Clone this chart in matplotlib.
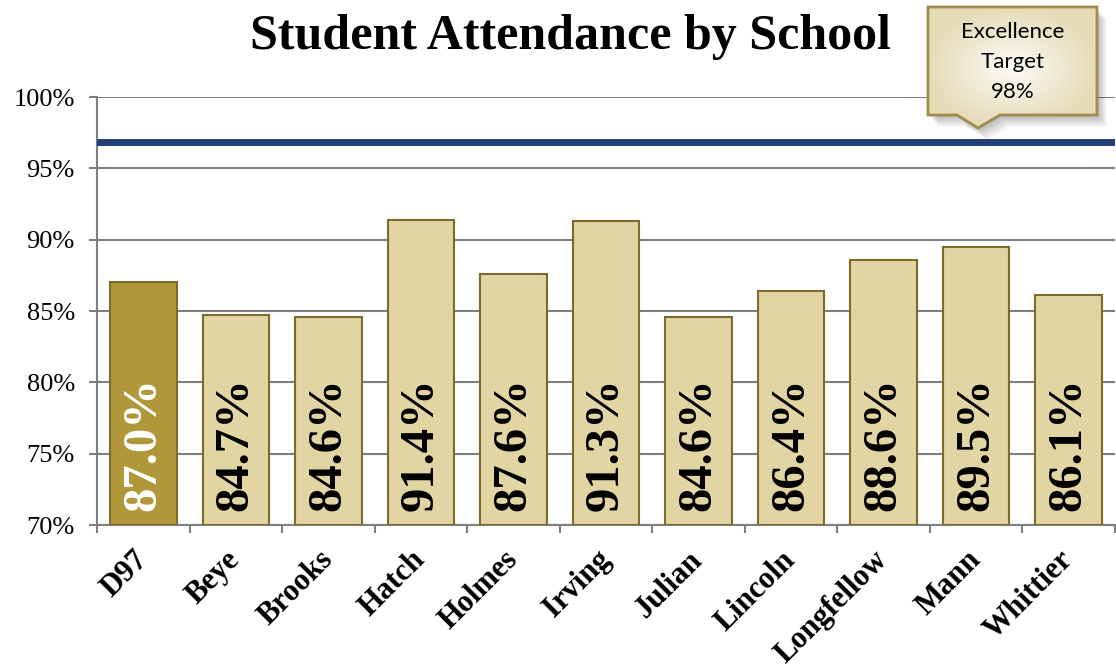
import numpy as np
import matplotlib
matplotlib.use("Agg")
from matplotlib import pyplot as plt
from matplotlib.patches import Polygon
from matplotlib.ticker import FixedLocator

schools = ["D97", "Beye", "Brooks", "Hatch", "Holmes", "Irving", "Julian",
           "Lincoln", "Longfellow", "Mann", "Whittier"]
attendance = [87.0, 84.7, 84.6, 91.4, 87.6, 91.3, 84.6, 86.4, 88.6, 89.5, 86.1]
target_line = 96.85
target_label = "Excellence\nTarget\n98%"
y_ticks = [70, 75, 80, 85, 90, 95, 100]

W, H = 1116, 667
fig = plt.figure(figsize=(W / 100, H / 100), dpi=100)
ax = fig.add_axes([97 / W, 1 - 525 / H, 1018 / W, 428 / H])

serif = "Liberation Serif"
grid_col = "#7f7f7f"

x = np.arange(len(schools))
colors = ["#b0983a"] + ["#e2d5a4"] * (len(schools) - 1)
ax.bar(x, [v - 70 for v in attendance], bottom=70, width=0.72, color=colors,
       edgecolor="#7d6b2c", linewidth=1.5, zorder=3)

for i, v in enumerate(attendance):
    ax.text(i, 71.0, f"{v:.1f}%", rotation=90, ha="center", va="bottom",
            fontsize=35, fontweight="bold", family=serif,
            color="white" if i == 0 else "black", zorder=4)

ax.axhline(target_line, color="#243f78", linewidth=5, zorder=5)

ax.set_xlim(-0.5, len(schools) - 0.5)
ax.set_ylim(70, 100)
ax.set_yticks(y_ticks)
ax.set_yticklabels([f"{t}%" for t in y_ticks], family=serif, fontsize=19)
ax.yaxis.grid(True, color=grid_col, linewidth=1.5, zorder=0)
ax.set_axisbelow(True)

ax.set_xticks(x)
ax.set_xticklabels(schools, rotation=45, ha="right", va="center",
                   rotation_mode="anchor", family=serif, fontweight="bold",
                   fontsize=22)
ax.xaxis.set_minor_locator(FixedLocator(np.arange(-0.5, len(schools), 1.0)))
ax.tick_params(axis="x", which="major", length=0, pad=22)
ax.tick_params(axis="x", which="minor", length=6, width=1.5, color=grid_col)
ax.tick_params(axis="y", length=6, width=1.5, color=grid_col, pad=10)

for s in ["top", "right"]:
    ax.spines[s].set_visible(False)
for s in ["left", "bottom"]:
    ax.spines[s].set_color(grid_col)
    ax.spines[s].set_linewidth(1.5)

fig.text(570 / W, 1 - 37 / H, "Student Attendance by School", ha="center",
         va="center", family=serif, fontweight="bold", fontsize=36)

# callout box
pts = [(928, 7), (1097, 7), (1097, 115), (1000, 115), (978, 128), (957, 115), (928, 115)]
def to_fig(p, dx=0, dy=0):
    return [((px + dx) / W, 1 - (py + dy) / H) for px, py in p]

for k in range(8, 0, -1):
    fig.patches.append(Polygon(to_fig(pts, k * 1.2, k * 1.5), closed=True,
                               transform=fig.transFigure, facecolor="#000000",
                               alpha=0.035, edgecolor="none", zorder=8))

gy, gx = np.mgrid[-1:1:100j, -1:1:120j]
grad = np.clip(np.sqrt(gx ** 2 + gy ** 2), 0, 1)
c0 = np.array([0.99, 0.99, 0.97])
c1 = np.array([0.90, 0.86, 0.72])
img = c0 + (c1 - c0) * grad[..., None]
ax_img = fig.add_axes([0, 0, 1, 1], zorder=10)
ax_img.set_xlim(0, 1)
ax_img.set_ylim(0, 1)
ax_img.axis("off")
ax_img.patch.set_alpha(0)
im = ax_img.imshow(img, extent=[928 / W, 1097 / W, 1 - 128 / H, 1 - 7 / H],
                   aspect="auto", zorder=1)
clip = Polygon(to_fig(pts), closed=True, transform=ax_img.transData)
im.set_clip_path(clip)
ax_img.add_patch(Polygon(to_fig(pts), closed=True, facecolor="none",
                         edgecolor="#a08c4c", linewidth=2, zorder=2))
ax_img.text(1013 / W, 1 - 62 / H, target_label, ha="center", va="center",
            fontsize=16, family="Lato", linespacing=1.6, zorder=3)

fig.savefig("out.png", dpi=100)
